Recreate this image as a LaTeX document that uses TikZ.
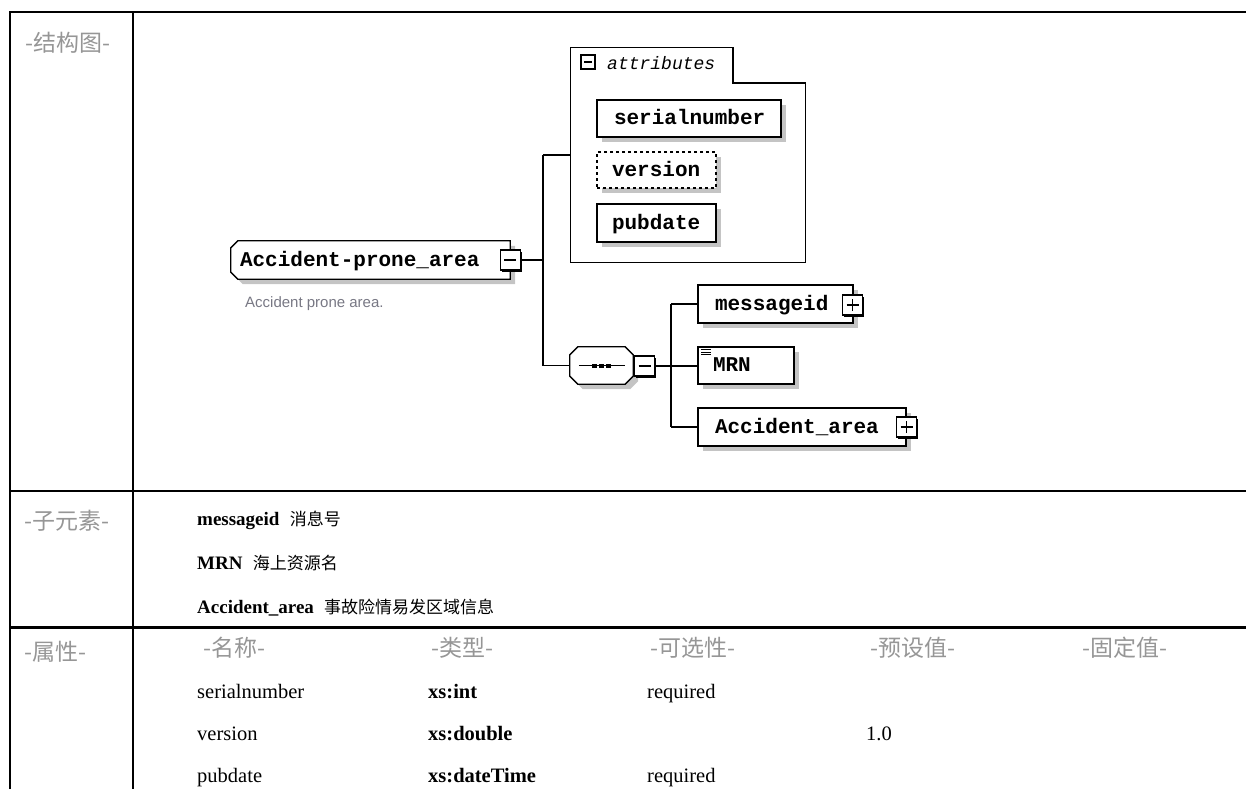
\documentclass[tikz,border=0pt]{standalone}
\usepackage{fontspec}
\setmainfont{Liberation Serif}
\newfontfamily\cjk{Noto Sans CJK SC}
\newfontfamily\schemafont{Liberation Mono}
\newfontfamily\notefont{Liberation Sans}
\usetikzlibrary{shadows,calc,backgrounds}
\definecolor{shade}{RGB}{196,196,196}
\definecolor{captiongrey}{RGB}{150,150,150}
\definecolor{notegrey}{RGB}{120,120,132}
% label placed at a fixed offset inside a box of fixed width
\newcommand\padlabel[3]{\makebox[#1][l]{\hspace*{#2}#3}}
\newcommand\elemfont{\schemafont\bfseries\fontsize{21}{21}\selectfont}
% child element entry: bold name followed by its Chinese description
\newcommand\childentry[2]{{\bfseries\fontsize{19}{19}\selectfont #1}\ \ {\cjk\fontsize{17}{17}\selectfont #2}}

\begin{document}
\begin{tikzpicture}[x=1pt,y=-1pt,
  frame/.style={line width=2.2pt},
  wire/.style={line width=1.3pt},
  casting/.style={drop shadow={shadow xshift=5pt,shadow yshift=-5pt,fill=shade,opacity=1}},
  elemtext/.style={inner xsep=0pt,inner ysep=0pt,text height=12pt,text depth=0pt,font=\elemfont,anchor=center},
  elem/.style={elemtext,draw,line width=1.3pt,fill=white,casting},
  toggle/.style={draw,line width=1.1pt,fill=white,minimum size=20pt,inner sep=0pt,
    drop shadow={shadow xshift=1.6pt,shadow yshift=-1.6pt,fill=black,opacity=1}},
  minus/.style={toggle,path picture={\draw[line width=1.2pt]
    ([xshift=4pt]path picture bounding box.west) -- ([xshift=-4pt]path picture bounding box.east);}},
  plus/.style={toggle,path picture={\draw[line width=1.2pt]
    ([xshift=4pt]path picture bounding box.west) -- ([xshift=-4pt]path picture bounding box.east)
    ([yshift=4pt]path picture bounding box.south) -- ([yshift=-4pt]path picture bounding box.north);}},
  caption/.style={font=\cjk\fontsize{23}{23}\selectfont,text=captiongrey,anchor=base west,inner sep=0pt},
  body/.style={font=\fontsize{20.5}{20.5}\selectfont,anchor=base west,inner sep=0pt},
]
\useasboundingbox (0,0) rectangle (1246,789);

% ---- table rules ----
\draw[frame] (10,789) -- (10,12) -- (1246,12);
\draw[frame] (133,12) -- (133,789);
\draw[frame] (10,491) -- (1246,491);
\draw[frame] (10,627.5) -- (1246,627.5);

% ---- root element ----
\node[elemtext,minimum width=279pt,minimum height=38pt] (root) at (370.5,260)
  {\padlabel{279pt}{9pt}{Accident-prone\_area}};
\begin{scope}[on background layer]
  \path[draw,line width=1.3pt,fill=white,casting]
    ([xshift=7pt]root.north west) -- (root.north east) -- (root.south east)
    -- ([xshift=7pt]root.south west) -- ([yshift=7pt]root.south west)
    -- ([yshift=-7pt]root.north west) -- cycle;
\end{scope}
\node[minus] (rootm) at (root.east) {};
\node[font=\notefont\fontsize{15}{15}\selectfont,text=notegrey,anchor=base west,inner sep=0pt]
  (rootnote) at (245,307) {Accident prone area.};

% ---- attribute group ----
\node[minimum width=234pt,minimum height=214pt,inner sep=0pt] (attr) at (688,155) {};
\coordinate (tabend) at (733,83);
\draw[line width=1.3pt] (attr.north west) -- (attr.north west -| tabend) -- (tabend)
  -- (tabend -| attr.east) -- (attr.south east) -- (attr.south west) -- cycle;
\node[draw,line width=1.8pt,fill=white,minimum size=14pt,inner sep=0pt,
  drop shadow={shadow xshift=1.2pt,shadow yshift=-1.2pt,fill=black,opacity=1},
  path picture={\draw[line width=1.2pt] ([xshift=3pt]path picture bounding box.west)
    -- ([xshift=-3pt]path picture bounding box.east);}] (attrm) at (588,62) {};
\node[font=\schemafont\itshape\fontsize{18}{18}\selectfont,anchor=west,inner sep=0pt]
  (attrlabel) at (607,63) {attributes};

\node[elem,minimum width=184pt,minimum height=37pt] (serial) at (689,118.5)
  {\padlabel{184pt}{17pt}{serialnumber}};
\node[elem,dash pattern=on 3pt off 3pt,minimum width=119pt,minimum height=36pt] (version) at (656.5,170)
  {\padlabel{119pt}{15pt}{version}};
\node[elem,minimum width=119pt,minimum height=38pt] (pubdate) at (656.5,223)
  {\padlabel{119pt}{15pt}{pubdate}};

% ---- sequence compositor ----
\node[minimum width=63pt,minimum height=37pt,inner sep=0pt] (seq) at (601.5,365.5) {};
\path[draw,line width=1.3pt,fill=white,casting]
  ([xshift=8pt]seq.north west) -- ([xshift=-8pt]seq.north east) -- ([yshift=-8pt]seq.north east)
  -- ([yshift=8pt]seq.south east) -- ([xshift=-8pt]seq.south east) -- ([xshift=8pt]seq.south west)
  -- ([yshift=8pt]seq.south west) -- ([yshift=-8pt]seq.north west) -- cycle;
\draw[line width=1.3pt] ([xshift=9pt]seq.west) -- ([xshift=-8pt]seq.east);
\foreach \dx in {-7,0,7}
  \fill ($(seq.center)+(\dx-2.5,-2)$) rectangle +(5,4);
\node[minus] (seqm) at (644.5,366) {};

% ---- child elements ----
\node[elem,minimum width=155pt,minimum height=38pt] (msg) at (775.5,304)
  {\padlabel{155pt}{17pt}{messageid}};
\node[plus] (msgp) at (852.5,305) {};
\node[elem,minimum width=96pt,minimum height=37pt] (mrn) at (746,365.5)
  {\padlabel{96pt}{15pt}{MRN}};
\foreach \dy in {3.5,6,8.5}
  \draw[line width=1pt] ([shift={(4pt,-\dy pt)}]mrn.north west) -- ++(10pt,0pt);
\node[elem,minimum width=208pt,minimum height=38pt] (acc) at (802,427)
  {\padlabel{208pt}{17pt}{Accident\_area}};
\node[plus] (accp) at (906.5,427) {};

% ---- connectors ----
\coordinate (trunk) at (543,0);
\coordinate (branch) at (671,0);
\draw[wire] (rootm.east) -- (rootm.east -| trunk);
\draw[wire] (attr.west -| trunk) -- (attr.west);
\draw[wire] (attr.west -| trunk) -- (trunk |- seq.west) -- (seq.west);
\draw[wire] (seqm.east) -- (seqm.east -| mrn.west);
\draw[wire] (msg.west -| branch) -- (acc.west -| branch);
\draw[wire] (msg.west -| branch) -- (msg.west);
\draw[wire] (acc.west -| branch) -- (acc.west);

% ---- table text ----
\node[caption] (lblstruct) at (25,51.5) {-结构图-};
\node[caption] (lblchild) at (24,529.5) {-子元素-};
\node[caption] (lblattr) at (24,660.5) {-属性-};

\node[body] (sub1) at (197,525.5) {\childentry{messageid}{消息号}};
\node[body] (sub2) at (197,569.5) {\childentry{MRN}{海上资源名}};
\node[body] (sub3) at (197,613.5) {\childentry{Accident\_area}{事故险情易发区域信息}};

\node[caption] (hname) at (203,656.5) {-名称-};
\node[caption] (htype) at (431,656.5) {-类型-};
\node[caption] (hopt) at (650,656.5) {-可选性-};
\node[caption] (hdef) at (870,656.5) {-预设值-};
\node[caption] (hfix) at (1082,656.5) {-固定值-};

\node[body] (n1) at (197,698.5) {serialnumber};
\node[body] (t1) at (428,698.5) {\textbf{xs:int}};
\node[body] (o1) at (647,698.5) {required};
\node[body] (n2) at (197,740.5) {version};
\node[body] (t2) at (428,740.5) {\textbf{xs:double}};
\node[body] (d2) at (866,740.5) {1.0};
\node[body] (n3) at (197,782.5) {pubdate};
\node[body] (t3) at (428,782.5) {\textbf{xs:dateTime}};
\node[body] (o3) at (647,782.5) {required};
\end{tikzpicture}
\end{document}
